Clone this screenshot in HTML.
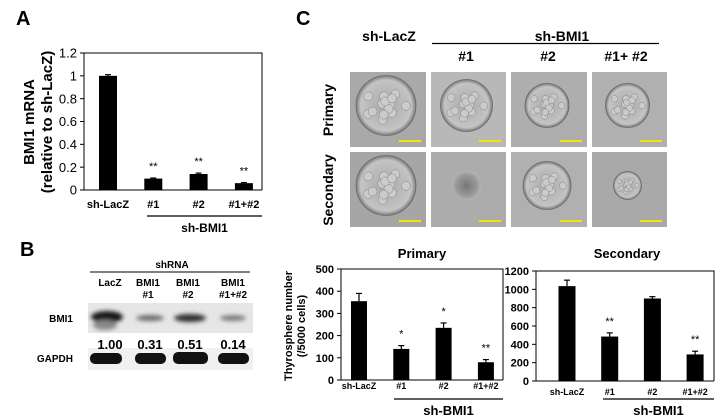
<!DOCTYPE html>
<html><head><meta charset="utf-8"><style>
html,body{margin:0;padding:0;background:#fff;}
svg{display:block;font-family:"Liberation Sans",Arial,sans-serif;}
</style></head><body>
<svg id="fig" width="721" height="420" viewBox="0 0 721 420">
<defs>
<radialGradient id="cl" cx="50%" cy="50%" r="50%"><stop offset="0" stop-color="#a8a8a8"/><stop offset="0.85" stop-color="#c4c4c4"/><stop offset="1" stop-color="#7a7a7a"/></radialGradient>
<radialGradient id="cd" cx="50%" cy="50%" r="50%"><stop offset="0" stop-color="#777"/><stop offset="0.7" stop-color="#999"/><stop offset="1" stop-color="#b5b5b5"/></radialGradient>
<filter id="bl" x="-30%" y="-50%" width="160%" height="200%"><feGaussianBlur stdDeviation="2"/></filter>
</defs>
<g id="panelA"></g>
<g id="panelB">
<text x="20" y="256" font-size="20" font-weight="bold">B</text>
<text x="172" y="268" font-size="10" font-weight="bold" text-anchor="middle">shRNA</text>
<line x1="90" y1="272" x2="250" y2="272" stroke="#000" stroke-width="1"/>
<g font-size="10" font-weight="bold" text-anchor="middle">
<text x="110" y="286">LacZ</text>
<text x="148" y="286">BMI1</text><text x="148" y="298">#1</text>
<text x="188" y="286">BMI1</text><text x="188" y="298">#2</text>
<text x="233" y="286">BMI1</text><text x="233" y="298">#1+#2</text>
</g>
<text x="73" y="322" font-size="10" font-weight="bold" text-anchor="end">BMI1</text>
<text x="73" y="362" font-size="10" font-weight="bold" text-anchor="end">GAPDH</text>
<rect x="88" y="303" width="165" height="30" fill="#e6e6e6"/>
<rect x="88" y="348" width="165" height="22" fill="#f0f0f0"/>
<g filter="url(#bl)">
<ellipse cx="107" cy="317" rx="16" ry="6" fill="#151515"/>
<ellipse cx="105" cy="325" rx="12" ry="5" fill="#888"/>
<ellipse cx="150" cy="318" rx="14" ry="3" fill="#6a6a6a"/>
<ellipse cx="190" cy="318" rx="16" ry="4" fill="#333"/>
<ellipse cx="233" cy="318" rx="13" ry="3" fill="#7a7a7a"/>
</g>
<g font-size="13" font-weight="bold" text-anchor="middle">
<text x="110" y="349">1.00</text><text x="150" y="349">0.31</text><text x="190" y="349">0.51</text><text x="233" y="349">0.14</text>
</g>
<g>
<rect x="90" y="353" width="32" height="11" rx="5" fill="#111"/>
<rect x="135" y="353" width="31" height="11" rx="5" fill="#111"/>
<rect x="173" y="352" width="35" height="12" rx="5" fill="#111"/>
<rect x="218" y="353" width="31" height="11" rx="5" fill="#111"/>
</g>
</g>
<g id="panelC">
<text x="296" y="25" font-size="20" font-weight="bold">C</text>
<text x="389" y="41" font-size="14" font-weight="bold" text-anchor="middle">sh-LacZ</text>
<text x="562" y="41" font-size="14" font-weight="bold" text-anchor="middle">sh-BMI1</text>
<line x1="432" y1="43.5" x2="659" y2="43.5" stroke="#000" stroke-width="1.2"/>
<g font-size="14" font-weight="bold" text-anchor="middle">
<text x="466" y="61">#1</text><text x="548" y="61">#2</text><text x="626" y="61">#1+ #2</text>
</g>
<text transform="translate(333,110) rotate(-90)" font-size="14" font-weight="bold" text-anchor="middle">Primary</text>
<text transform="translate(333,190) rotate(-90)" font-size="14" font-weight="bold" text-anchor="middle">Secondary</text>
<g id="photos"></g>
<text x="422" y="258" font-size="13" font-weight="bold" text-anchor="middle">Primary</text>
<text x="627" y="258" font-size="13" font-weight="bold" text-anchor="middle">Secondary</text>
<text transform="translate(292,326) rotate(-90)" font-size="11" font-weight="bold" text-anchor="middle">Thyrosphere number</text>
<text transform="translate(305,326) rotate(-90)" font-size="11" font-weight="bold" text-anchor="middle">(/5000 cells)</text>
<g id="chartP"></g>
<g id="chartS"></g>
</g>
</svg>
<script>
const NS='http://www.w3.org/2000/svg';
function mk(p,t,a,txt){const e=document.createElementNS(NS,t);for(const k in a)e.setAttribute(k,a[k]);if(txt!==undefined)e.textContent=txt;p.appendChild(e);return e;}

// ---- data ----
const catsA=['sh-LacZ','#1','#2','#1+#2'];
const valsA=[1.0,0.10,0.14,0.06];
const errA=[0.01,0.005,0.008,0.005];
const sigA=['','**','**','**'];
const ticksA=[0,0.2,0.4,0.6,0.8,1,1.2];
const tickLabelsA=['0','0.2','0.4','0.6','0.8','1','1.2'];

const catsP=['sh-LacZ','#1','#2','#1+#2'];
const valsP=[355,140,235,80];
const errP=[35,15,22,12];
const sigP=['','*','*','**'];
const ticksP=[0,100,200,300,400,500];

const catsS=['sh-LacZ','#1','#2','#1+#2'];
const valsS=[1035,485,900,290];
const errS=[65,40,20,35];
const sigS=['','**','','**'];
const ticksS=[0,200,400,600,800,1000,1200];

function barChart(g,o){
  const y=v=>o.y0-(v/o.max)*(o.y0-o.y1);
  const x=i=>o.x0+o.first+i*o.step;
  let e=mk(g,'line',{x1:o.x0,y1:o.y1,x2:o.x0,y2:o.y0,stroke:'#000','stroke-width':1});
  
  e=mk(g,'line',{x1:o.x0,y1:o.y0,x2:o.x2,y2:o.y0,stroke:'#000','stroke-width':1});
  
  if(o.box){
    e=mk(g,'polyline',{points:`${o.x0},${o.y1} ${o.x2},${o.y1} ${o.x2},${o.y0}`,fill:'none',stroke:'#000','stroke-width':1});
    
  }
  o.ticks.forEach((t,i)=>{
    mk(g,'line',{x1:o.x0-4,y1:y(t),x2:o.x0,y2:y(t),stroke:'#000'});
    e=mk(g,'text',{x:o.x0-7,y:y(t)+o.tf*0.36,'font-size':o.tf,'font-weight':o.tw,'text-anchor':'end'},o.labels?o.labels[i]:String(t));
    
  });
  o.vals.forEach((v,i)=>{
    const cx=x(i);
    e=mk(g,'rect',{x:cx-o.bw/2,y:y(v),width:o.bw,height:o.y0-y(v),fill:'#000'});
    
    const ey=y(v+o.err[i]);
    mk(g,'line',{x1:cx,y1:y(v),x2:cx,y2:ey,stroke:'#000','stroke-width':1.2});
    mk(g,'line',{x1:cx-3,y1:ey,x2:cx+3,y2:ey,stroke:'#000','stroke-width':1.2});
    if(o.sig[i]){e=mk(g,'text',{x:cx,y:ey-8,'font-size':o.sf,'text-anchor':'middle'},o.sig[i]);
      }
    e=mk(g,'text',{x:cx,y:o.ly,'font-size':o.cf,'font-weight':'bold','text-anchor':'middle'},o.cats[i]);
    
  });
  e=mk(g,'line',{x1:o.ux1,y1:o.uy,x2:o.ux2,y2:o.uy,stroke:'#000','stroke-width':1.2});
  
  e=mk(g,'text',{x:(o.ux1+o.ux2)/2,y:o.uy+16,'font-size':o.gf,'font-weight':'bold','text-anchor':'middle'},'sh-BMI1');
  
}

const A=document.getElementById('panelA');
let t=mk(A,'text',{x:16,y:25,'font-size':20,'font-weight':'bold'},'A');

t=mk(A,'text',{transform:'translate(34,122) rotate(-90)','font-size':15,'font-weight':'bold','text-anchor':'middle'},'BMI1 mRNA');

t=mk(A,'text',{transform:'translate(52,122) rotate(-90)','font-size':15,'font-weight':'bold','text-anchor':'middle'},'(relative to sh-LacZ)');

barChart(A,{x0:84,x2:262,y0:190,y1:53,max:1.2,first:24,step:45.3,bw:18,cats:catsA,vals:valsA,err:errA,sig:sigA,ticks:ticksA,labels:tickLabelsA,tf:13,tw:'normal',sf:11,cf:11,ly:208,ux1:147,ux2:262,uy:216,gf:12,box:true});

barChart(document.getElementById('chartP'),{x0:341,x2:503,y0:380,y1:269,max:500,first:18,step:42.3,bw:16,cats:catsP,vals:valsP,err:errP,sig:sigP,ticks:ticksP,tf:11,tw:'bold',sf:11,cf:9,ly:389,ux1:394,ux2:503,uy:399,gf:13,box:true});
barChart(document.getElementById('chartS'),{x0:536,x2:714,y0:381,y1:271,max:1200,first:31,step:42.7,bw:17,cats:catsS,vals:valsS,err:errS,sig:sigS,ticks:ticksS,tf:11,tw:'bold',sf:11,cf:9,ly:395,ux1:603,ux2:714,uy:399,gf:13,box:true});

// ---- micrographs ----
const P=document.getElementById('photos');
const cols=[[350,426],[431,506],[511,587],[592,667]];
const rows=[[72,147],[152,227]];
const sizes=[[30,26,22,22],[30,15,24,14]];
const bgs=[['#a9a9a9','#b8b8b8','#aeaeae','#b0b0b0'],['#a6a6a6','#acacac','#b0b0b0','#a9a9a9']];
rows.forEach((r,ri)=>cols.forEach((c,ci)=>{
  const g=mk(P,'g',{});
  
  
  mk(g,'rect',{x:c[0],y:r[0],width:c[1]-c[0],height:r[1]-r[0],fill:bgs[ri][ci]});
  const cx=(c[0]+c[1])/2-2, cy=(r[0]+r[1])/2-4, s=sizes[ri][ci];
  const dark=(ri==1&&ci==1);
  mk(g,'circle',{cx:cx,cy:cy,r:s,fill:dark?'url(#cd)':'url(#cl)',stroke:dark?'none':'#6a6a6a','stroke-width':0.8});
  if(!dark){for(let k=0;k<14;k++){const a=k*0.9, rr=s*0.7*((k%4)/4+0.2);
    mk(g,'circle',{cx:cx+Math.cos(a)*rr,cy:cy+Math.sin(a)*rr,r:s*0.15,fill:'#cbcbcb',stroke:'#858585','stroke-width':0.5});}}
  mk(g,'rect',{x:c[1]-27,y:r[1]-7,width:22,height:2,fill:'#f2e600'});
}));
</script>
</body></html>
